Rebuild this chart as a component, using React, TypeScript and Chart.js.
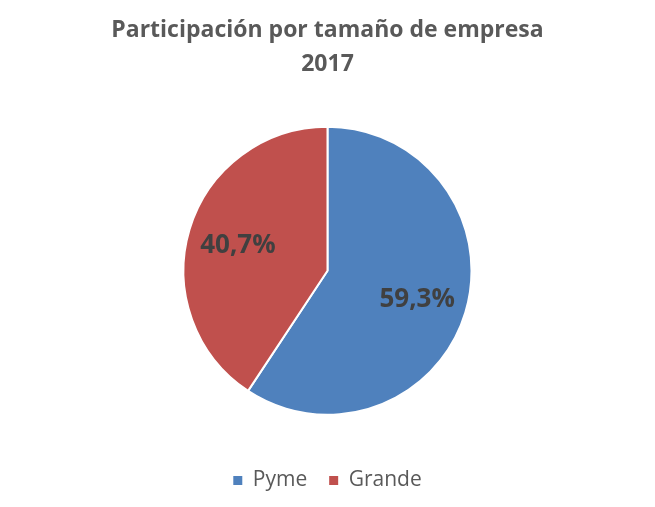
import { useEffect, useRef } from 'react';
import Chart from 'chart.js/auto';

const labels = ['Pyme', 'Grande'];
const shares = [59.3, 40.7];
const colors = ['#4F81BD', '#C0504D'];
const titleLines = ['Participación por tamaño de empresa', '2017'];

const FONT = '"Open Sans", sans-serif';

// draws the percentage inside each slice
const sliceLabels = {
  id: 'sliceLabels',
  afterDatasetsDraw(chart: Chart) {
    const { ctx } = chart;
    const meta = chart.getDatasetMeta(0);
    ctx.save();
    ctx.font = `bold 26px ${FONT}`;
    ctx.fillStyle = '#404040';
    ctx.textAlign = 'center';
    ctx.textBaseline = 'middle';
    meta.data.forEach((el: any, i: number) => {
      const { x, y, startAngle, endAngle, outerRadius } = el.getProps(
        ['x', 'y', 'startAngle', 'endAngle', 'outerRadius'],
        true
      );
      const mid = (startAngle + endAngle) / 2;
      const r = outerRadius * 0.65;
      const text = shares[i].toFixed(1).replace('.', ',') + '%';
      ctx.fillText(text, x + Math.cos(mid) * r, y + Math.sin(mid) * r + 2);
    });
    ctx.restore();
  },
};

const App = () => {
  const canvasRef = useRef<HTMLCanvasElement>(null);
  const chartRef = useRef<Chart | null>(null);

  useEffect(() => {
    document.body.style.margin = '0';
    if (!canvasRef.current) return;
    if (chartRef.current) chartRef.current.destroy();

    chartRef.current = new Chart(canvasRef.current, {
      type: 'pie',
      data: {
        labels,
        datasets: [
          {
            data: shares,
            backgroundColor: colors,
            borderColor: '#ffffff',
            borderWidth: 2,
            radius: 144,
          },
        ],
      },
      options: {
        responsive: true,
        maintainAspectRatio: false,
        animation: false,
        layout: { padding: { top: 0, bottom: 6, left: 0, right: 0 } },
        plugins: {
          title: {
            display: true,
            text: titleLines,
            color: '#595959',
            font: { family: FONT, size: 23, weight: 'bold', lineHeight: 1.47 },
            padding: { top: 14, bottom: 12 },
          },
          legend: {
            position: 'bottom',
            labels: {
              color: '#595959',
              font: { family: FONT, size: 21 },
              boxWidth: 9,
              boxHeight: 9,
              padding: 22,
              generateLabels(chart) {
                const base = Chart.overrides.pie.plugins.legend.labels.generateLabels(chart);
                return base.map((l: any) => ({ ...l, lineWidth: 0 }));
              },
            },
          },
          tooltip: { enabled: false },
        },
      },
      plugins: [sliceLabels],
    });

    return () => {
      if (chartRef.current) {
        chartRef.current.destroy();
        chartRef.current = null;
      }
    };
  }, []);

  return (
    <div style={{ width: 655, height: 507, background: '#fff' }}>
      <canvas ref={canvasRef}></canvas>
    </div>
  );
};

export default App;
